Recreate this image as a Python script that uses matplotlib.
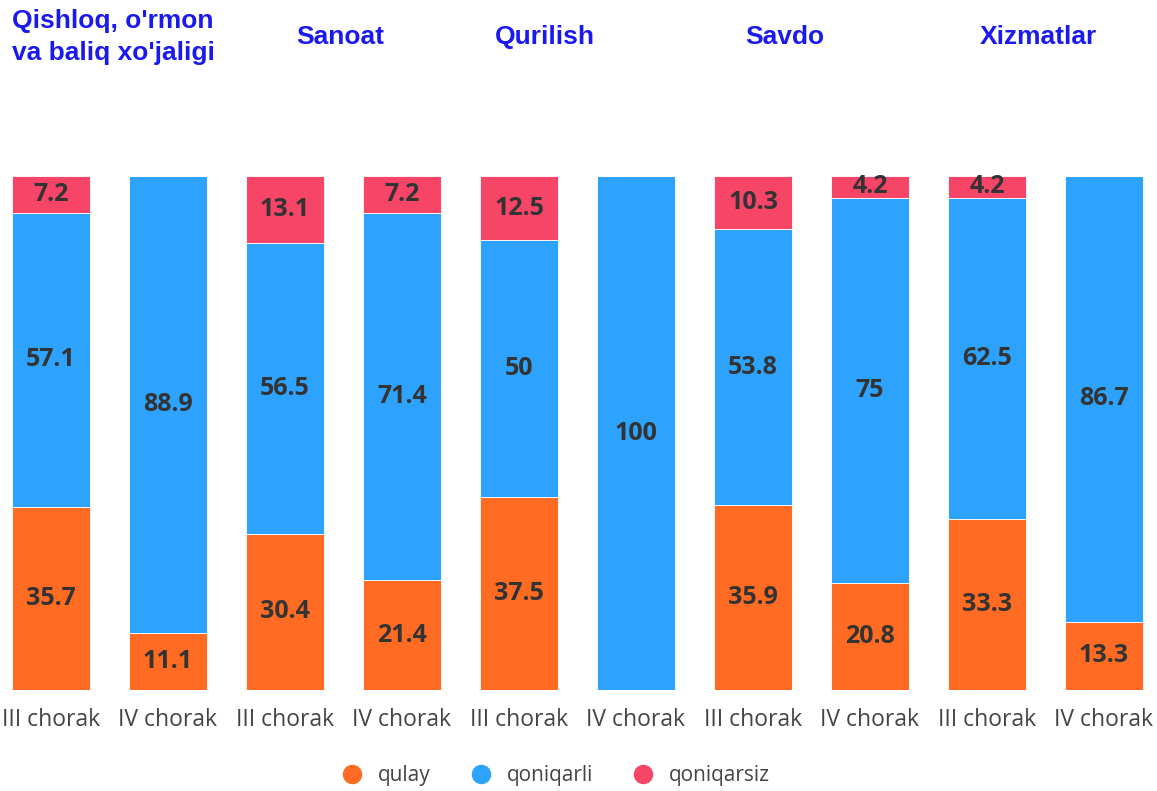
import numpy as np
import matplotlib
matplotlib.use("Agg")
import matplotlib.pyplot as plt
from matplotlib.lines import Line2D

# Data
quarters = ["III chorak", "IV chorak"] * 5
sectors = ["Qishloq, o'rmon\nva baliq xo'jaligi", "Sanoat", "Qurilish", "Savdo", "Xizmatlar"]
qulay = [35.7, 11.1, 30.4, 21.4, 37.5, 0, 35.9, 20.8, 33.3, 13.3]
qoniqarli = [57.1, 88.9, 56.5, 71.4, 50, 100, 53.8, 75, 62.5, 86.7]
qoniqarsiz = [7.2, 0, 13.1, 7.2, 12.5, 0, 10.3, 4.2, 4.2, 0]

series = [("qulay", qulay, "#ff6b22"),
          ("qoniqarli", qoniqarli, "#2ea3fe"),
          ("qoniqarsiz", qoniqarsiz, "#f64567")]

fig = plt.figure(figsize=(11.57, 7.91), dpi=100)
ax = fig.add_axes([0, (791 - 690) / 791, 1, (690 - 176) / 791])

x = np.arange(len(quarters))
bottom = np.zeros(len(quarters))
for name, vals, color in series:
    vals = np.array(vals, dtype=float)
    ax.bar(x, vals, 0.667, bottom=bottom, color=color, edgecolor="white",
           linewidth=0.6, label=name)
    for xi, b, v in zip(x, bottom, vals):
        if v > 0:
            ax.text(xi, b + v / 2, f"{v:g}", ha="center", va="center",
                    fontsize=18, fontweight="bold", color="#333333",
                    family="Open Sans")
    bottom += vals

ax.set_xlim((0 - 51) / 117, (1157 - 51) / 117)
ax.set_ylim(0, 100)
ax.set_xticks(x)
ax.set_xticklabels(quarters, fontsize=16.5, color="#444444", family="Open Sans")
ax.tick_params(axis="x", length=0, pad=13)
ax.set_yticks([])
for s in ax.spines.values():
    s.set_visible(False)

# sector titles
title_pos = [(113, 37), (340, 37), (545, 37), (785, 37), (1038, 37)]
for (px, py), name in zip(title_pos, sectors):
    fig.text(px / 1157, 1 - py / 791, name, ha="center", va="center",
             fontsize=19, fontweight="bold", color="#1a1aee",
             family="Liberation Sans", linespacing=1.4)

handles = [Line2D([], [], marker="o", linestyle="", markersize=13,
                  markerfacecolor=c, markeredgecolor=c, label=n)
           for n, _, c in series]
fig.legend(handles=handles, loc="center", bbox_to_anchor=(0.476, 1 - 776 / 791),
           ncol=3, frameon=False, handletextpad=0.25, borderpad=0.2,
           columnspacing=1.4, prop={"family": "Open Sans", "size": 15})
for t in fig.legends[0].get_texts():
    t.set_color("#444444")

fig.savefig("out.png", dpi=100)
